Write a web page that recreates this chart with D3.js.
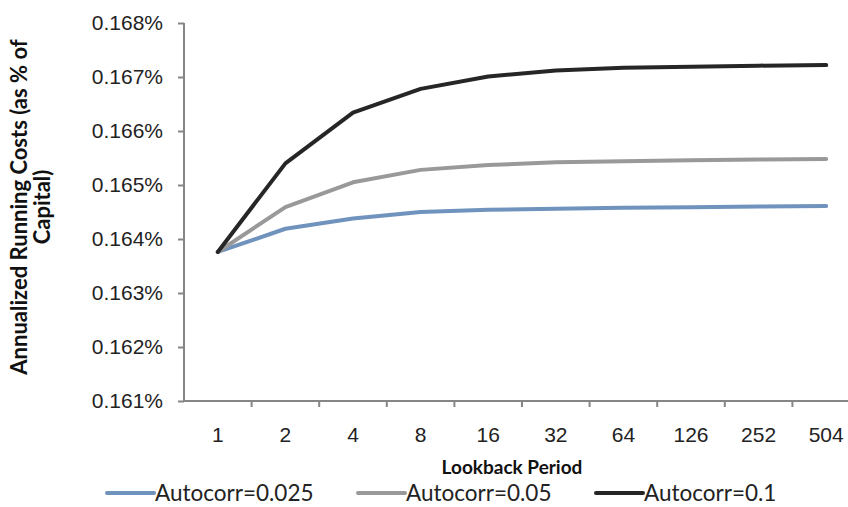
<!DOCTYPE html>
<html>
<head>
<meta charset="utf-8">
<script src="https://cdn.jsdelivr.net/npm/d3@7"></script>
<style>
  body { margin: 0; background: #fff; }
  svg { display: block; font-family: Lato, "Open Sans", sans-serif; }
  .axis path, .axis line { stroke: #868686; stroke-width: 2px; }
  .axis text { font-size: 21px; fill: #222; }
</style>
</head>
<body>
<svg id="chart" width="848" height="507"></svg>
<script>
var periods = ["1", "2", "4", "8", "16", "32", "64", "126", "252", "504"];
var seriesNames = ["Autocorr=0.025", "Autocorr=0.05", "Autocorr=0.1"];
var ac025 = [0.16376, 0.16419, 0.16438, 0.16450, 0.16454, 0.16456, 0.16458, 0.16459, 0.16460, 0.16461];
var ac05  = [0.16376, 0.16459, 0.16505, 0.16528, 0.16537, 0.16542, 0.16544, 0.16546, 0.16547, 0.16548];
var ac1   = [0.16376, 0.16540, 0.16634, 0.16678, 0.16701, 0.16712, 0.16717, 0.16719, 0.16721, 0.16722];
var yTicks = [0.161, 0.162, 0.163, 0.164, 0.165, 0.166, 0.167, 0.168];
var colors = ["#6f93bd", "#999999", "#262626"];

var svg = d3.select("#chart"),
    margin = {top: 23, left: 184},
    width = 676,
    height = 378,
    g = svg.append("g").attr("transform", "translate(" + margin.left + "," + margin.top + ")");

var x = d3.scaleBand().domain(periods).range([0, width]),
    y = d3.scaleLinear().domain([0.161, 0.168]).range([height, 0]);

var series = [ac025, ac05, ac1].map(function(vals, i) {
  return {name: seriesNames[i], color: colors[i],
    values: vals.map(function(v, j) { return {p: periods[j], v: v}; })};
});

// y axis
var yAxis = g.append("g").attr("class", "axis")
    .call(d3.axisLeft(y).tickValues(yTicks).tickSize(6).tickPadding(15)
      .tickFormat(function(d) { return d3.format(".3f")(d) + "%"; }));
yAxis.select(".domain").attr("d", "M0,0V" + height);

// x axis with ticks at category boundaries
var xAxis = g.append("g").attr("class", "axis")
    .attr("transform", "translate(0," + height + ")")
    .call(d3.axisBottom(x).tickSize(0).tickPadding(26));
xAxis.select(".domain").attr("d", "M0,0H" + width);
xAxis.selectAll(".bnd").data(periods.slice(1))
  .enter().append("line")
    .attr("x1", function(d) { return x(d); })
    .attr("x2", function(d) { return x(d); })
    .attr("y1", 0).attr("y2", 6)
    .attr("stroke", "#868686").attr("stroke-width", 2);

var line = d3.line()
    .x(function(d) { return x(d.p) + x.bandwidth() / 2; })
    .y(function(d) { return y(d.v); });

g.selectAll(".series").data(series)
  .enter().append("path")
    .attr("fill", "none")
    .attr("stroke", function(d) { return d.color; })
    .attr("stroke-width", 4)
    .attr("stroke-linejoin", "round")
    .attr("stroke-linecap", "round")
    .attr("d", function(d) { return line(d.values); });

// axis titles
svg.append("text")
    .attr("x", 512).attr("y", 474)
    .attr("text-anchor", "middle")
    .attr("font-size", 19).attr("font-weight", "bold").attr("fill", "#111")
    .text("Lookback Period");

var yt = svg.append("text")
    .attr("transform", "translate(0,207) rotate(-90)")
    .attr("text-anchor", "middle")
    .attr("font-size", 22).attr("font-weight", "bold").attr("fill", "#111");
yt.append("tspan").attr("x", 0).attr("y", 27).text("Annualized Running Costs (as % of");
yt.append("tspan").attr("x", 0).attr("y", 50).text("Capital)");

// legend
var legX = [107, 358, 596];
var leg = svg.selectAll(".leg").data(series)
  .enter().append("g")
    .attr("transform", function(d, i) { return "translate(" + legX[i] + ",493)"; });
leg.append("line")
    .attr("x1", 0).attr("x2", 47).attr("y1", 0).attr("y2", 0)
    .attr("stroke", function(d) { return d.color; })
    .attr("stroke-width", 4).attr("stroke-linecap", "round");
leg.append("text")
    .attr("x", 48).attr("y", 0).attr("dy", "0.35em")
    .attr("font-size", 22.5).attr("fill", "#222")
    .text(function(d) { return d.name; });
</script>
</body>
</html>
